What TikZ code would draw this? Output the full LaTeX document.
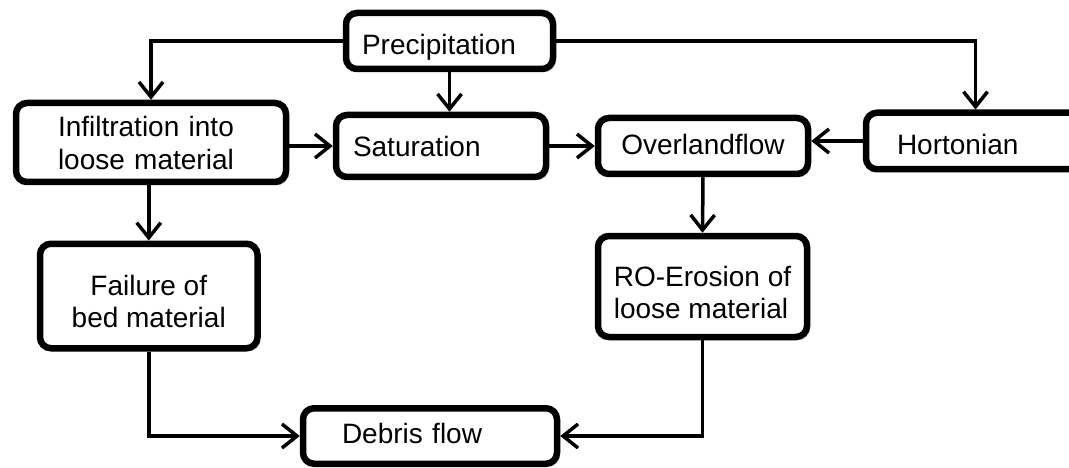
\documentclass[tikz,border=0pt]{standalone}
\usepackage{fontspec}
\setmainfont{Liberation Sans}
\usetikzlibrary{arrows.meta,shadows}
\begin{document}
\begin{tikzpicture}[x=1pt,y=-1pt,
  box/.style={draw=black, line width=6.5pt, rounded corners=11pt, fill=white,
    drop shadow={shadow xshift=3pt, shadow yshift=-3pt, opacity=0.3},
    inner sep=0pt, font=\fontsize{28}{33}\selectfont},
  arr/.style={line width=3.5pt, -{Straight Barb[length=15pt,width=24pt]}}]
\useasboundingbox (0,0) rectangle (1069,468);
\clip (0,0) rectangle (1069,468);
\node[box, minimum width=207pt, minimum height=56pt, text width=175pt, align=left, text height=28pt, text depth=0pt] (pre) at (449.5,41) {Precipitation};
\node[box, minimum width=270pt, minimum height=79pt, text width=186pt, align=left, text height=15pt, text depth=26pt] (inf) at (151,142.5) {Infiltration into\\loose material};
\node[box, minimum width=210pt, minimum height=62pt, text width=176pt, align=left, text height=22pt, text depth=0pt] (sat) at (441,146) {Saturation};
\node[box, minimum width=210pt, minimum height=56pt, align=center, text height=18pt, text depth=0pt] (ovl) at (703,146) {Overlandflow};
\node[box, minimum width=219pt, minimum height=56.5pt, text width=157pt, align=left, text height=28pt, text depth=0pt] (hor) at (975.5,141) {Hortonian};
\node[box, minimum width=217.5pt, minimum height=104.5pt, align=center, font=\fontsize{28}{32}\selectfont, text height=62pt, text depth=0pt] (fail) at (148.75,296) {Failure of\\bed material};
\node[box, minimum width=209pt, minimum height=101pt, align=left, font=\fontsize{28}{32}\selectfont, text height=63pt, text depth=0pt] (ro) at (702.5,286.5) {RO-Erosion of\\loose material};
\node[box, minimum width=254pt, minimum height=55.5pt, text width=176pt, align=left, text height=14pt, text depth=0pt] (deb) at (430,436) {Debris flow};
\draw[arr] (pre.west) -| (inf.north);
\draw[arr] (pre.east) -| (hor.north);
\draw[arr] (pre.south) -- (pre.south |- sat.north);
\draw[arr] (sat.west -| inf.east) -- (sat.west);
\draw[arr] (sat.east) -- (sat.east -| ovl.west);
\draw[arr] (hor.west) -- (hor.west -| ovl.east);
\draw[arr] (ovl.south) -- (ro.north);
\draw[arr] (fail.north |- inf.south) -- (fail.north);
\draw[arr] (fail.south) |- (deb.west);
\draw[arr] (ro.south) |- (deb.east);
\end{tikzpicture}
\end{document}
